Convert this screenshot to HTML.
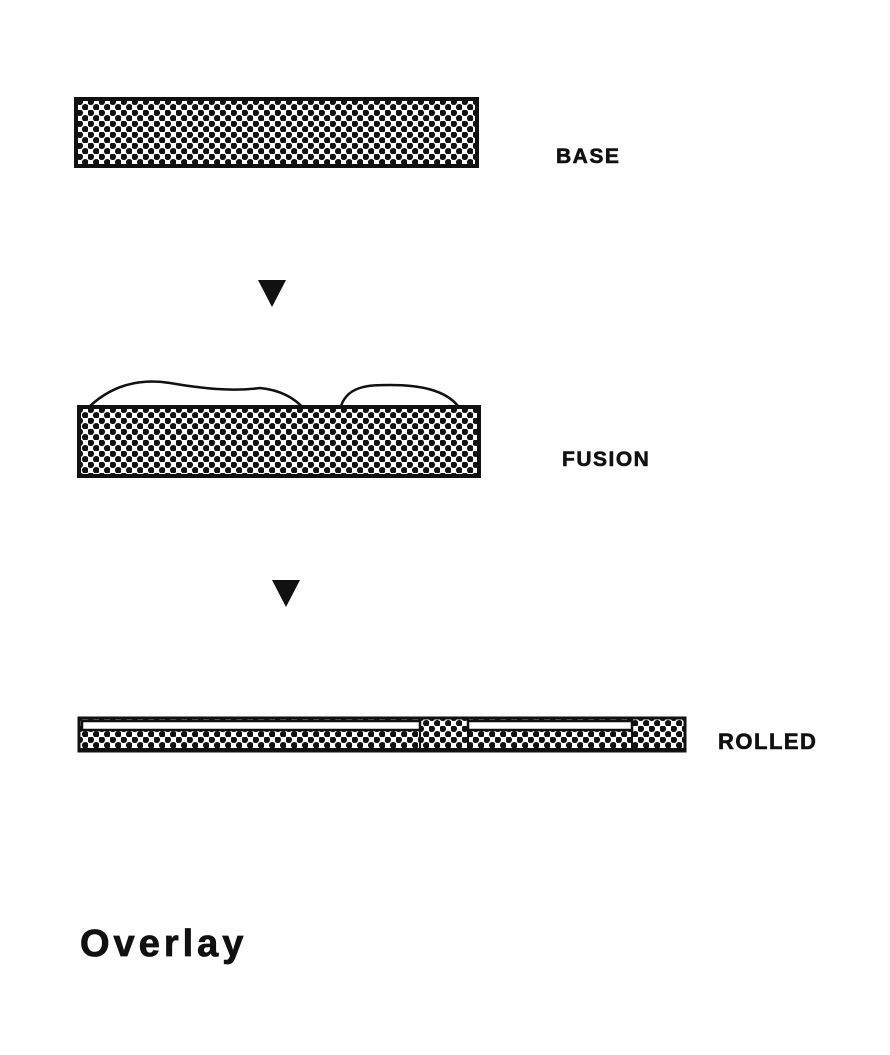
<!DOCTYPE html>
<html><head><style>body{margin:0;background:#fff}</style></head><body>
<svg width="890" height="1050" viewBox="0 0 890 1050" xmlns="http://www.w3.org/2000/svg">
<defs>
<pattern id="d" width="11" height="11" patternUnits="userSpaceOnUse">
<rect width="11" height="11" fill="#fff"/>
<circle cx="2.75" cy="2.75" r="3.3" fill="#111"/>
<circle cx="8.25" cy="8.25" r="3.3" fill="#111"/>
</pattern>
</defs>
<rect x="76" y="99" width="401" height="67" fill="url(#d)" stroke="#111" stroke-width="4"/>
<text x="556" y="163" font-family="Liberation Sans, sans-serif" font-weight="bold" font-size="21" letter-spacing="1.5" fill="#111" stroke="#111" stroke-width="0.6">BASE</text>
<polygon points="258,280 286,280 272,307" fill="#111"/>
<path d="M86,410 C110,385 140,378 170,383 C200,388 230,392 260,388 C280,390 295,398 305,410 L320,410" fill="none" stroke="#111" stroke-width="2.5"/>
<path d="M330,410 L340,410 C345,385 370,385 390,385 C420,385 445,390 458,406" fill="none" stroke="#111" stroke-width="2.5"/>
<rect x="79" y="407" width="400" height="69" fill="url(#d)" stroke="#111" stroke-width="4"/>
<text x="562" y="466" font-family="Liberation Sans, sans-serif" font-weight="bold" font-size="21" letter-spacing="1.5" fill="#111" stroke="#111" stroke-width="0.6">FUSION</text>
<polygon points="272,580 300,580 286,607" fill="#111"/>
<rect x="79" y="718" width="606" height="33" fill="url(#d)" stroke="#111" stroke-width="3"/>
<rect x="82" y="721" width="338" height="9" fill="#fff" stroke="#111" stroke-width="2.5"/>
<rect x="468" y="721" width="164" height="9" fill="#fff" stroke="#111" stroke-width="2.5"/>
<line x1="420" y1="719" x2="420" y2="750" stroke="#111" stroke-width="2"/>
<line x1="468" y1="719" x2="468" y2="750" stroke="#111" stroke-width="2"/>
<line x1="632" y1="719" x2="632" y2="750" stroke="#111" stroke-width="2"/>
<line x1="80" y1="750" x2="685" y2="750" stroke="#111" stroke-width="4"/>
<text x="718" y="749" font-family="Liberation Sans, sans-serif" font-weight="bold" font-size="22" letter-spacing="1.5" fill="#111" stroke="#111" stroke-width="0.6">ROLLED</text>
<text x="80" y="956" font-family="Liberation Sans, sans-serif" font-weight="bold" font-size="38" letter-spacing="4" fill="#111" stroke="#111" stroke-width="0.8">Overlay</text>
</svg>
</body></html>
